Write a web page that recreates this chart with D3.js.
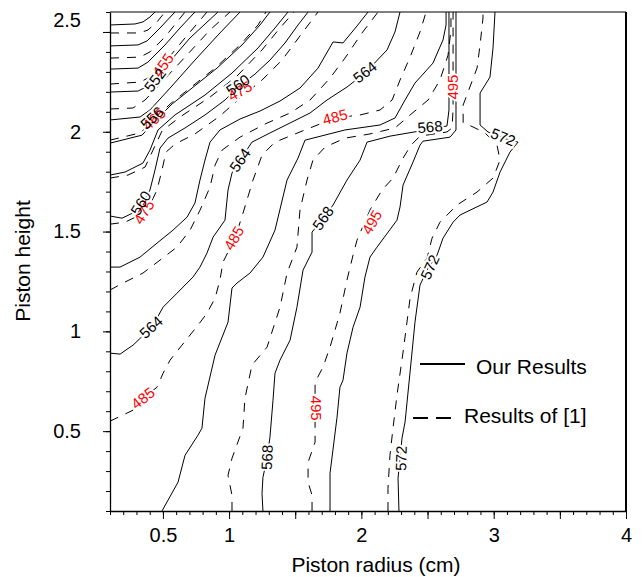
<!DOCTYPE html>
<html>
<head>
<meta charset="utf-8">
<script src="https://cdn.jsdelivr.net/npm/d3@7"></script>
<style>
  body { margin: 0; background: #fff; }
  svg { font-family: Arial, "Liberation Sans", sans-serif; }
</style>
</head>
<body>
<div id="chart"></div>
<script>
// contours, [radius cm, height]
// solid = our results (552..572), dashed = results of [1] (445..505)
var s546 = [[0.10,2.535],[0.289,2.54],[0.349,2.55],[0.402,2.575],[0.44,2.6]];
var s548 = [[0.10,2.43],[0.312,2.435],[0.38,2.455],[0.478,2.52],[0.591,2.6]];
var s550 = [[0.10,2.314],[0.312,2.319],[0.387,2.349],[0.516,2.435],[0.629,2.52],[0.742,2.6]];
var s552 = [[0.10,2.199],[0.312,2.204],[0.387,2.229],[0.516,2.324],[0.705,2.47],[0.916,2.6]];
var s554 = [[0.10,2.059],[0.327,2.074],[0.402,2.109],[0.554,2.219],[0.742,2.359],[0.931,2.495],[1.083,2.6]];
var s556 = [[0.10,1.943],[0.342,1.983],[0.44,2.054],[0.569,2.139],[0.72,2.219],[0.909,2.319],[1.098,2.435],[1.234,2.535],[1.309,2.6]];
var s558 = [[0.10,1.783],[0.213,1.798],[0.349,1.843],[0.402,1.908],[0.463,2.009],[0.591,2.084],[0.818,2.184],[1.022,2.294],[1.219,2.42],[1.347,2.52],[1.445,2.6]];
var s560 = [[0.10,1.578],[0.191,1.567],[0.289,1.598],[0.342,1.633],[0.402,1.708],[0.44,1.808],[0.478,1.918],[0.538,1.968],[0.667,2.019],[0.818,2.084],[0.969,2.159],[1.067,2.224],[1.196,2.289],[1.309,2.359],[1.423,2.445],[1.521,2.535],[1.597,2.6]];
var s562 = [[0.10,1.322],[0.176,1.322],[0.327,1.372],[0.455,1.442],[0.576,1.507],[0.682,1.572],[0.742,1.643],[0.78,1.758],[0.818,1.858],[0.856,1.948],[0.931,2.009],[1.083,2.064],[1.234,2.104],[1.385,2.154],[1.536,2.219],[1.672,2.319],[1.786,2.45],[1.861,2.445],[1.967,2.53],[2.05,2.6]];
var s564 = [[0.10,0.891],[0.176,0.886],[0.274,0.931],[0.417,1.021],[0.501,1.121],[0.606,1.191],[0.727,1.272],[0.78,1.322],[0.833,1.392],[0.879,1.472],[0.969,1.557],[0.992,1.708],[1.022,1.793],[1.083,1.858],[1.173,1.948],[1.309,1.994],[1.461,2.044],[1.612,2.094],[1.74,2.159],[1.891,2.224],[2.027,2.294],[2.194,2.41],[2.254,2.50],[2.292,2.6]];
var s566 = [[0.493,0.10],[0.614,0.244],[0.667,0.379],[0.765,0.48],[0.795,0.515],[0.818,0.665],[0.894,0.881],[0.992,1.046],[1.022,1.217],[1.06,1.242],[1.158,1.292],[1.256,1.372],[1.347,1.507],[1.438,1.758],[1.521,1.868],[1.574,1.958],[1.876,2.009],[2.141,2.034],[2.254,2.069],[2.33,2.159],[2.405,2.244],[2.541,2.344],[2.617,2.46],[2.64,2.535],[2.64,2.6]];
var s568 = [[1.256,0.10],[1.249,0.189],[1.256,0.269],[1.287,0.364],[1.309,0.47],[1.332,0.655],[1.347,0.79],[1.385,0.856],[1.461,0.956],[1.513,1.121],[1.559,1.307],[1.627,1.397],[1.627,1.497],[1.71,1.567],[1.786,1.633],[1.891,1.758],[1.99,1.858],[2.043,1.948],[2.216,1.978],[2.443,2.004],[2.647,2.029],[2.662,2.109],[2.662,2.359],[2.662,2.6]];
var s570 = [[1.763,0.10],[1.763,0.289],[1.816,0.570],[1.838,0.72],[1.861,0.755],[1.891,0.891],[1.937,1.021],[1.99,1.121],[2.027,1.272],[2.065,1.372],[2.118,1.422],[2.269,1.557],[2.292,1.623],[2.315,1.733],[2.39,1.848],[2.443,1.933],[2.466,1.953],[2.67,1.973],[2.715,2.009],[2.715,2.259],[2.715,2.6]];
var s572 = [[2.284,0.10],[2.277,0.264],[2.292,0.364],[2.307,0.465],[2.33,0.545],[2.368,0.796],[2.405,1.046],[2.443,1.232],[2.504,1.317],[2.572,1.382],[2.617,1.467],[2.693,1.547],[2.746,1.583],[2.95,1.648],[2.995,1.698],[3.048,1.798],[3.123,1.898],[3.184,1.948],[3.071,1.968],[2.957,1.999],[2.897,2.034],[2.897,2.194],[2.972,2.274],[2.995,2.42],[3.01,2.6]];

var d445 = [[0.10,2.495],[0.327,2.495],[0.387,2.51],[0.455,2.55],[0.516,2.6]];
var d450 = [[0.10,2.369],[0.327,2.374],[0.402,2.40],[0.516,2.475],[0.667,2.6]];
var d455 = [[0.10,2.239],[0.327,2.249],[0.402,2.274],[0.516,2.349],[0.667,2.47],[0.833,2.6]];
var d460 = [[0.10,2.114],[0.274,2.119],[0.365,2.159],[0.478,2.239],[0.667,2.374],[0.856,2.51],[1.007,2.6]];
var d465 = [[0.10,1.958],[0.327,1.994],[0.425,2.054],[0.554,2.139],[0.705,2.219],[0.894,2.319],[1.083,2.435],[1.219,2.535],[1.279,2.6]];
var d470 = [[0.10,1.768],[0.236,1.783],[0.365,1.823],[0.425,1.908],[0.493,2.004],[0.629,2.074],[0.856,2.174],[1.06,2.279],[1.249,2.41],[1.385,2.52],[1.491,2.6]];
var d475 = [[0.10,1.537],[0.213,1.547],[0.327,1.583],[0.402,1.633],[0.455,1.708],[0.493,1.808],[0.523,1.898],[0.591,1.938],[0.742,1.989],[0.931,2.079],[1.083,2.169],[1.249,2.259],[1.40,2.359],[1.536,2.48],[1.672,2.6]];
var d480 = [[0.10,1.207],[0.198,1.242],[0.349,1.292],[0.478,1.357],[0.606,1.422],[0.705,1.507],[0.78,1.607],[0.856,1.723],[0.894,1.833],[0.947,1.908],[1.083,1.973],[1.272,2.039],[1.461,2.094],[1.612,2.159],[1.763,2.269],[1.876,2.369],[2.005,2.495],[2.126,2.6]];
var d485 = [[0.10,0.55],[0.274,0.605],[0.349,0.665],[0.455,0.72],[0.501,0.79],[0.554,0.856],[0.644,0.931],[0.765,1.031],[0.833,1.091],[0.894,1.166],[0.931,1.257],[0.954,1.347],[1.007,1.417],[1.045,1.467],[1.105,1.592],[1.181,1.758],[1.249,1.883],[1.347,1.948],[1.536,1.999],[1.801,2.069],[1.99,2.084],[2.141,2.109],[2.232,2.159],[2.292,2.259],[2.368,2.374],[2.443,2.50],[2.489,2.6]];
var d490 = [[1.022,0.10],[1.022,0.179],[0.992,0.279],[1.022,0.364],[1.105,0.515],[1.12,0.665],[1.173,0.831],[1.287,0.921],[1.385,1.121],[1.438,1.292],[1.513,1.422],[1.536,1.608],[1.589,1.758],[1.634,1.858],[1.725,1.923],[1.876,1.968],[2.065,1.989],[2.254,2.019],[2.368,2.084],[2.504,2.159],[2.594,2.259],[2.655,2.384],[2.677,2.51],[2.677,2.6]];
var d495 = [[1.627,0.10],[1.627,0.179],[1.597,0.244],[1.597,0.344],[1.65,0.445],[1.65,0.615],[1.65,0.745],[1.71,0.821],[1.763,0.921],[1.838,1.091],[1.891,1.257],[1.937,1.382],[1.967,1.457],[2.065,1.608],[2.156,1.708],[2.239,1.768],[2.315,1.868],[2.375,1.933],[2.443,1.978],[2.647,1.999],[2.685,2.019],[2.693,2.109],[2.693,2.6]];
var d505 = [[2.201,0.10],[2.201,0.214],[2.216,0.379],[2.239,0.515],[2.269,0.68],[2.315,0.896],[2.368,1.166],[2.42,1.297],[2.496,1.367],[2.534,1.467],[2.594,1.547],[2.723,1.633],[2.874,1.698],[2.995,1.768],[3.048,1.858],[3.025,1.933],[2.935,1.994],[2.844,2.024],[2.769,2.044],[2.769,2.134],[2.806,2.199],[2.874,2.319],[2.897,2.435],[2.919,2.570],[2.919,2.6]];

var ourLines = [s546, s548, s550, s552, s554, s556, s558, s560, s562, s564, s566, s568, s570, s572];
var refLines = [d445, d450, d455, d460, d465, d470, d475, d480, d485, d490, d495, d505];

// contour labels: [text, radius, height]
var ourLabels = [["552",0.44,2.259],["556",0.417,2.069],["560",0.334,1.643],["560",1.067,2.234],
  ["564",2.027,2.299],["564",1.083,1.858],["564",0.41,1.021],
  ["568",2.519,2.024],["568",1.71,1.567],["568",1.287,0.369],
  ["572",3.071,1.973],["572",2.519,1.322],["572",2.30,0.364]];
var ourAngles = [-52,-42,-58,-35,-38,-55,-42,-5,-55,-88,22,-65,-88];

var refLabels = [["455",0.501,2.334],["465",0.433,2.064],["475",0.357,1.598],["475",1.083,2.204],
  ["485",1.801,2.074],["485",1.037,1.467],["485",0.349,0.665],
  ["495",2.693,2.224],["495",2.08,1.547],["495",1.657,0.615]];
var refAngles = [-55,-42,-58,-30,-15,-60,-38,-90,-60,90];

var xMajor = [0.5, 1, 1.5, 2, 2.5, 3, 3.5, 4];
var xLabeled = [0.5, 1, 2, 3, 4];
var yMajor = [0.5, 1, 1.5, 2, 2.5];
var xMinor = d3.range(1, 41).map(function (i) { return i / 10; });
var yMinor = d3.range(1, 27).map(function (i) { return i / 10; });

var legendNames = ["Our Results", "Results of [1]"];

var _width = 643, _height = 577;

var svg = d3.select("#chart").append("svg")
  .attr("width", _width)
  .attr("height", _height);

var x = d3.scaleLinear().domain([0.1, 4]).range([110, 626]);
var y = d3.scaleLinear().domain([0.1, 2.6]).range([511, 12]);

var line = d3.line()
  .x(function (d) { return x(d[0]); })
  .y(function (d) { return y(d[1]); });

var plot = svg.append("g").attr("class", "body");

plot.selectAll("path.our")
  .data(ourLines)
  .enter().append("path")
  .attr("class", "our")
  .attr("d", line)
  .attr("fill", "none")
  .attr("stroke", "#000")
  .attr("stroke-width", 1);

plot.selectAll("path.ref")
  .data(refLines)
  .enter().append("path")
  .attr("class", "ref")
  .attr("d", line)
  .attr("fill", "none")
  .attr("stroke", "#000")
  .attr("stroke-width", 1)
  .attr("stroke-dasharray", "9,8");

// labels: white halo first so lines break, then the text
function labelG(data, angles, color) {
  var g = plot.append("g");
  g.selectAll("text")
    .data(data)
    .enter().append("text")
    .attr("transform", function (d, i) {
      return "translate(" + x(d[1]) + "," + y(d[2]) + ") rotate(" + angles[i] + ")";
    })
    .attr("text-anchor", "middle")
    .attr("dy", "0.35em")
    .style("font-size", "15px")
    .attr("fill", color)
    .text(function (d) { return d[0]; });
  return g;
}
labelG(ourLabels, ourAngles, "#fff").selectAll("text").attr("stroke", "#fff").attr("stroke-width", 4);
labelG(refLabels, refAngles, "#fff").selectAll("text").attr("stroke", "#fff").attr("stroke-width", 4);
labelG(refLabels, refAngles, "#ff0000");
labelG(ourLabels, ourAngles, "#000");

// axes
var xAxisMinor = svg.append("g")
  .attr("transform", "translate(0,511)")
  .call(d3.axisBottom(x).tickValues(xMinor).tickSize(4).tickFormat(""));
xAxisMinor.select(".domain").remove();

var xAxis = svg.append("g")
  .attr("transform", "translate(0,511)")
  .call(d3.axisBottom(x).tickValues(xMajor).tickSizeInner(8).tickSizeOuter(0).tickPadding(9)
    .tickFormat(function (d) { return xLabeled.indexOf(d) >= 0 ? String(d) : ""; }));

var yAxisMinor = svg.append("g")
  .attr("transform", "translate(110,0)")
  .call(d3.axisLeft(y).tickValues(yMinor).tickSize(4).tickFormat(""));
yAxisMinor.select(".domain").remove();

var yAxis = svg.append("g")
  .attr("transform", "translate(110,0)")
  .call(d3.axisLeft(y).tickValues(yMajor).tickSizeInner(7).tickSizeOuter(0).tickPadding(22)
    .tickFormat(function (d) { return String(d); }));

svg.selectAll(".tick text")
  .attr("font-family", "Arial, 'Liberation Sans', sans-serif")
  .style("font-size", "20px")
  .attr("fill", "#000");
svg.selectAll(".domain").attr("stroke-width", 1.3);

// the top label sits higher than its tick
yAxis.selectAll(".tick text")
  .filter(function (d) { return d === 2.5; })
  .attr("y", -12);

// frame
svg.append("line")
  .attr("x1", x(0.1)).attr("x2", x(4))
  .attr("y1", y(2.6)).attr("y2", y(2.6))
  .attr("stroke", "#000").attr("stroke-width", 1);
svg.append("line")
  .attr("x1", x(4)).attr("x2", x(4))
  .attr("y1", y(2.6)).attr("y2", y(0.1))
  .attr("stroke", "#000").attr("stroke-width", 2);

// axis titles
svg.append("text")
  .attr("x", 376).attr("y", 572)
  .attr("text-anchor", "middle")
  .style("font-size", "21px")
  .text("Piston radius (cm)");

svg.append("text")
  .attr("transform", "translate(30,261) rotate(-90)")
  .attr("text-anchor", "middle")
  .style("font-size", "21px")
  .text("Piston height");

// legend
var legend = svg.append("g");
legend.append("line")
  .attr("x1", 420).attr("x2", 465).attr("y1", 364).attr("y2", 364)
  .attr("stroke", "#000").attr("stroke-width", 2);
legend.append("line")
  .attr("x1", 413).attr("x2", 451).attr("y1", 418).attr("y2", 418)
  .attr("stroke", "#000").attr("stroke-width", 2)
  .attr("stroke-dasharray", "15,8");
legend.append("text")
  .attr("x", 476).attr("y", 374)
  .style("font-size", "21px")
  .text(legendNames[0]);
legend.append("text")
  .attr("x", 464).attr("y", 423)
  .style("font-size", "21px")
  .text(legendNames[1]);
</script>
</body>
</html>
